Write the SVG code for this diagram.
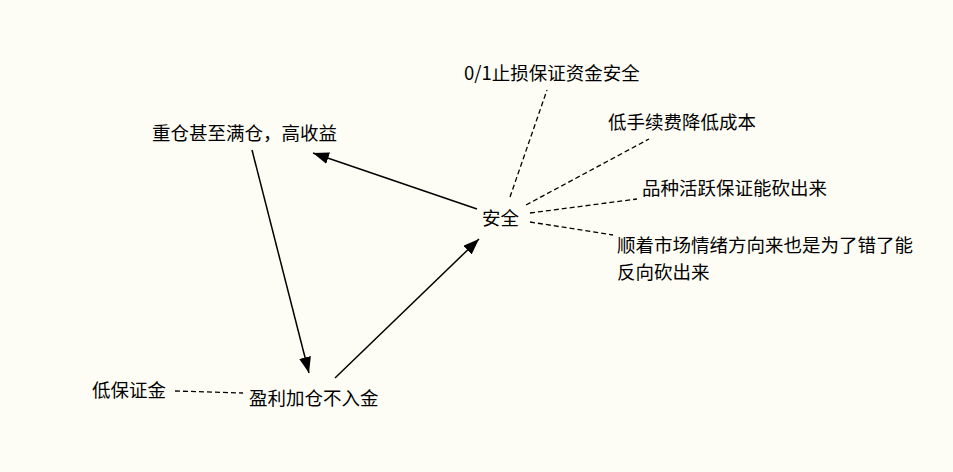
<svg xmlns="http://www.w3.org/2000/svg" width="953" height="472" viewBox="0 0 953 472">
<style>
text{font-family:"Noto Sans CJK SC","Noto Sans",sans-serif;font-size:18.5px;fill:#000}
.a{stroke:#000;stroke-width:1.5;fill:none;marker-end:url(#ah)}
.d{stroke:#000;stroke-width:1.3;fill:none;stroke-dasharray:5 3}
</style>
<defs>
<marker id="ah" viewBox="0 0 16 12" refX="16" refY="6" markerWidth="16" markerHeight="12" markerUnits="userSpaceOnUse" orient="auto">
<path d="M0,0 L16,6 L0,12 Z" fill="#000"/>
</marker>
</defs>
<rect width="953" height="472" fill="#fefdf5"/>
<g id="connectors">
<line class="a" x1="477" y1="209" x2="313" y2="153"/>
<line class="a" x1="252" y1="150" x2="309" y2="373"/>
<line class="a" x1="335" y1="378" x2="479" y2="239"/>
<line class="d" x1="510" y1="197" x2="547" y2="90"/>
<line class="d" x1="526" y1="205" x2="649" y2="139"/>
<line class="d" x1="530" y1="213" x2="637" y2="199"/>
<line class="d" x1="530" y1="222" x2="613" y2="235"/>
<line class="d" x1="175" y1="391" x2="243" y2="393"/>
</g>
<g id="n-anquan"><text x="482" y="225">安全</text></g>
<g id="n-zhongcang"><text x="152" y="140">重仓甚至满仓，高收益</text></g>
<g id="n-yingli"><text x="249" y="405">盈利加仓不入金</text></g>
<g id="n-dibaozheng"><text x="92" y="397">低保证金</text></g>
<g id="n-zhisun"><text x="464" y="80">0/1止损保证资金安全</text></g>
<g id="n-shouxu"><text x="608" y="129">低手续费降低成本</text></g>
<g id="n-pinzhong"><text x="642" y="195">品种活跃保证能砍出来</text></g>
<g id="n-shunzhe"><text x="617" y="252">顺着市场情绪方向来也是为了错了能</text><text x="617" y="279">反向砍出来</text></g>
</svg>
